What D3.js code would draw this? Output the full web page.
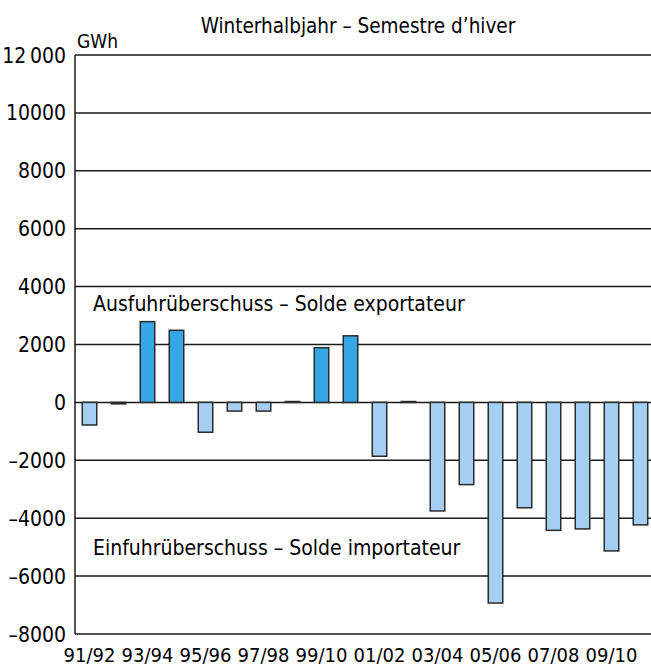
<html>
  <head>
    <style>
    body {
      margin: 0px;
      background: white;
    }
    text {
      font-family: "Liberation Sans Narrow", "DejaVu Sans Condensed", "Open Sans", sans-serif;
      fill: #000;
    }
    </style>
  </head>
  <body>
    <div id="elm"></div>

    <script src="https://cdn.jsdelivr.net/npm/d3@7/dist/d3.min.js"></script>
    <script>
    'use strict';

    // winter half-year balance, GWh
    var seasons = ['91/92', '92/93', '93/94', '94/95', '95/96', '96/97', '97/98', '98/99', '99/10', '00/01',
                   '01/02', '02/03', '03/04', '04/05', '05/06', '06/07', '07/08', '08/09', '09/10', '10/11'];
    var balance = [-780, -50, 2790, 2490, -1030, -300, -300, 30, 1890, 2300,
                   -1860, 30, -3750, -2840, -6930, -3640, -4420, -4370, -5130, -4230];
    var yTicks = [-8000, -6000, -4000, -2000, 0, 2000, 4000, 6000, 8000, 10000, 12000];
    var yTickLabels = ['–8000', '–6000', '–4000', '–2000', '0', '2000', '4000', '6000', '8000', '10000', '12\u2009000'];
    var xLabelEvery = 2;

    var width = 651, height = 668;
    var plotLeft = 75, plotTop = 55, plotBottom = 634, plotRight = 655;

    var svg = d3.select('#elm').append('svg')
      .attr('width', width)
      .attr('height', height);

    var x = d3.scaleBand()
      .domain(seasons)
      .range([plotLeft, plotRight])
      .paddingInner(0.5)
      .paddingOuter(0.25);

    var y = d3.scaleLinear()
      .domain([-8000, 12000])
      .range([plotBottom, plotTop]);

    // grid lines
    svg.append('g')
      .selectAll('line')
      .data(yTicks)
      .join('line')
      .attr('x1', plotLeft)
      .attr('x2', plotRight)
      .attr('y1', d => y(d))
      .attr('y2', d => y(d))
      .attr('stroke', '#1a1a1a')
      .attr('stroke-width', 1.5);

    svg.append('line')
      .attr('x1', plotLeft).attr('x2', plotLeft)
      .attr('y1', plotTop).attr('y2', plotBottom)
      .attr('stroke', '#1a1a1a')
      .attr('stroke-width', 1.5);

    // y labels
    svg.append('g')
      .selectAll('text')
      .data(yTicks)
      .join('text')
      .attr('x', 66)
      .attr('y', d => y(d) + 7.5)
      .attr('text-anchor', 'end')
      .attr('font-size', 21)
      .text((d, i) => yTickLabels[i]);

    // bars
    svg.append('g')
      .selectAll('rect')
      .data(balance)
      .join('rect')
      .attr('x', (d, i) => x(seasons[i]))
      .attr('width', x.bandwidth())
      .attr('y', d => y(Math.max(0, d)))
      .attr('height', d => Math.abs(y(d) - y(0)))
      .attr('fill', d => d > 0 ? '#35a6e6' : '#a4cef2')
      .attr('stroke', '#2a2a2a')
      .attr('stroke-width', 1.5);

    // x labels
    svg.append('g')
      .selectAll('text')
      .data(seasons.filter((s, i) => i % xLabelEvery === 0))
      .join('text')
      .attr('x', d => x(d) + x.bandwidth() / 2)
      .attr('y', 662)
      .attr('text-anchor', 'middle')
      .attr('font-size', 20)
      .text(d => d);

    svg.append('text')
      .attr('x', 77).attr('y', 48)
      .attr('font-size', 19)
      .text('GWh');

    svg.append('text')
      .attr('x', 358).attr('y', 33)
      .attr('text-anchor', 'middle')
      .attr('font-size', 20.5)
      .text('Winterhalbjahr – Semestre d’hiver');

    svg.append('text')
      .attr('x', 93).attr('y', 311)
      .attr('font-size', 21)
      .text('Ausfuhrüberschuss – Solde exportateur');

    svg.append('text')
      .attr('x', 93).attr('y', 555)
      .attr('font-size', 21)
      .text('Einfuhrüberschuss – Solde importateur');
    </script>
  </body>
</html>
